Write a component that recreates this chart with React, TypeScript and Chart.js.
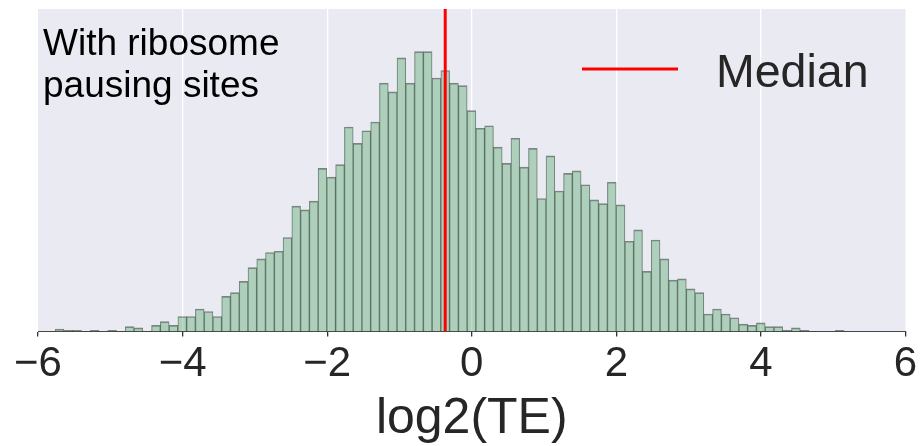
import React, { useEffect, useRef } from "react";
import { Chart, registerables } from "chart.js";

Chart.register(...registerables);

// Histogram bins (log2(TE))
const BIN_START = -5.763;
const BIN_WIDTH = 0.12126;
const COUNTS = [
  2, 1, 1, 0, 1, 0, 1, 0, 4, 3,
  0, 5, 8, 5, 12, 12, 18, 16, 12, 28,
  31, 40, 51, 58, 63, 64, 75, 100, 97, 104,
  130, 123, 133, 163, 150, 160, 167, 198, 191, 218,
  198, 223, 223, 202, 208, 198, 196, 176, 162, 164,
  147, 134, 154, 131, 146, 106, 140, 112, 126, 128,
  117, 105, 102, 119, 101, 72, 81, 48, 73, 58,
  41, 42, 34, 31, 14, 18, 14, 11, 6, 5,
  7, 4, 4, 1, 3, 1, 0, 0, 0, 1,
];
const MEDIAN = -0.367;
const X_TICKS = [-6, -4, -2, 0, 2, 4, 6];
const X_MIN = -6;
const X_MAX = 6;
const Y_MAX = 257;
const ANNOTATION_LINES = ["With ribosome", "pausing sites"];
const LEGEND_LABEL = "Median";
const X_TITLE = "log2(TE)";

const FONT = "'Liberation Sans', Arial, Helvetica, sans-serif";

const bgPlugin = {
  id: "bgPlugin",
  beforeDraw(chart: any) {
    const { ctx, chartArea } = chart;
    if (!chartArea) return;
    ctx.save();
    ctx.fillStyle = "#EAEAF2";
    ctx.fillRect(chartArea.left, chartArea.top, chartArea.right - chartArea.left, chartArea.bottom - chartArea.top);
    ctx.restore();
  },
};

const textPlugin = {
  id: "textPlugin",
  afterDraw(chart: any) {
    const { ctx, chartArea } = chart;
    if (!chartArea) return;
    const { left, top, right } = chartArea;
    ctx.save();
    // annotation
    ctx.fillStyle = "#000000";
    ctx.font = `37px ${FONT}`;
    ctx.textAlign = "left";
    ctx.textBaseline = "alphabetic";
    ANNOTATION_LINES.forEach((line, i) => {
      ctx.fillText(line, left + 5, top + 46 + i * 42);
    });
    // legend
    ctx.strokeStyle = "#ff0000";
    ctx.lineWidth = 3;
    ctx.beginPath();
    ctx.moveTo(right - 323.5, top + 60);
    ctx.lineTo(right - 227.5, top + 60);
    ctx.stroke();
    ctx.fillStyle = "#262626";
    ctx.font = `46.5px ${FONT}`;
    ctx.fillText(LEGEND_LABEL, right - 189.5, top + 78);
    ctx.restore();
  },
};

export default function App() {
  const canvasRef = useRef<HTMLCanvasElement | null>(null);

  useEffect(() => {
    if (!canvasRef.current) return;
    const barData = COUNTS.map((c, i) => ({ x: BIN_START + (i + 0.5) * BIN_WIDTH, y: c }));
    const chart = new Chart(canvasRef.current, {
      type: "bar",
      data: {
        datasets: [
          {
            type: "line",
            label: LEGEND_LABEL,
            data: [
              { x: MEDIAN, y: 0 },
              { x: MEDIAN, y: Y_MAX },
            ],
            borderColor: "#ff0000",
            borderWidth: 3,
            pointRadius: 0,
            order: 0,
          } as any,
          {
            type: "bar",
            label: "counts",
            data: barData,
            backgroundColor: "rgba(85,168,104,0.4)",
            borderColor: "rgba(0,0,0,0.45)",
            borderWidth: { top: 1, left: 0.5, right: 0.5, bottom: 0 },
            borderSkipped: "start",
            barPercentage: 1,
            categoryPercentage: 1,
            order: 1,
          } as any,
        ],
      },
      options: {
        responsive: false,
        animation: false,
        devicePixelRatio: 1,
        events: [],
        layout: { padding: { left: 38, right: 15.5, top: 9, bottom: 0 } },
        plugins: {
          legend: { display: false },
          tooltip: { enabled: false },
          title: { display: false },
        },
        scales: {
          x: {
            type: "linear",
            min: X_MIN,
            max: X_MAX,
            offset: false,
            afterBuildTicks: (scale: any) => {
              scale.ticks = X_TICKS.map((v) => ({ value: v }));
            },
            ticks: {
              autoSkip: false,
              maxRotation: 0,
              padding: 3,
              color: "#262626",
              font: { family: FONT, size: 42, lineHeight: 1.2 },
              callback: (v: any) => (Number(v) < 0 ? "\u2212" + Math.abs(Number(v)) : String(v)),
            },
            grid: {
              offset: false,
              color: (ctx: any) =>
                ctx.tick && Math.abs(ctx.tick.value) === 6 ? "rgba(0,0,0,0)" : "#ffffff",
              lineWidth: 1.3,
              tickColor: "#333333",
              tickLength: 5,
              drawTicks: true,
            },
            border: { display: true, color: "#444444", width: 1 },
            title: {
              display: true,
              text: X_TITLE,
              color: "#262626",
              font: { family: FONT, size: 50, lineHeight: 1.06 },
              padding: { top: 0, bottom: 0 },
            },
          },
          y: {
            type: "linear",
            min: 0,
            max: Y_MAX,
            display: false,
          },
        },
      } as any,
      plugins: [bgPlugin, textPlugin],
    });
    return () => chart.destroy();
  }, []);

  return (
    <div style={{ position: "absolute", left: 0, top: 0, width: 921, height: 446, background: "#ffffff" }}>
      <canvas ref={canvasRef} width={921} height={446} style={{ display: "block" }} />
    </div>
  );
}
